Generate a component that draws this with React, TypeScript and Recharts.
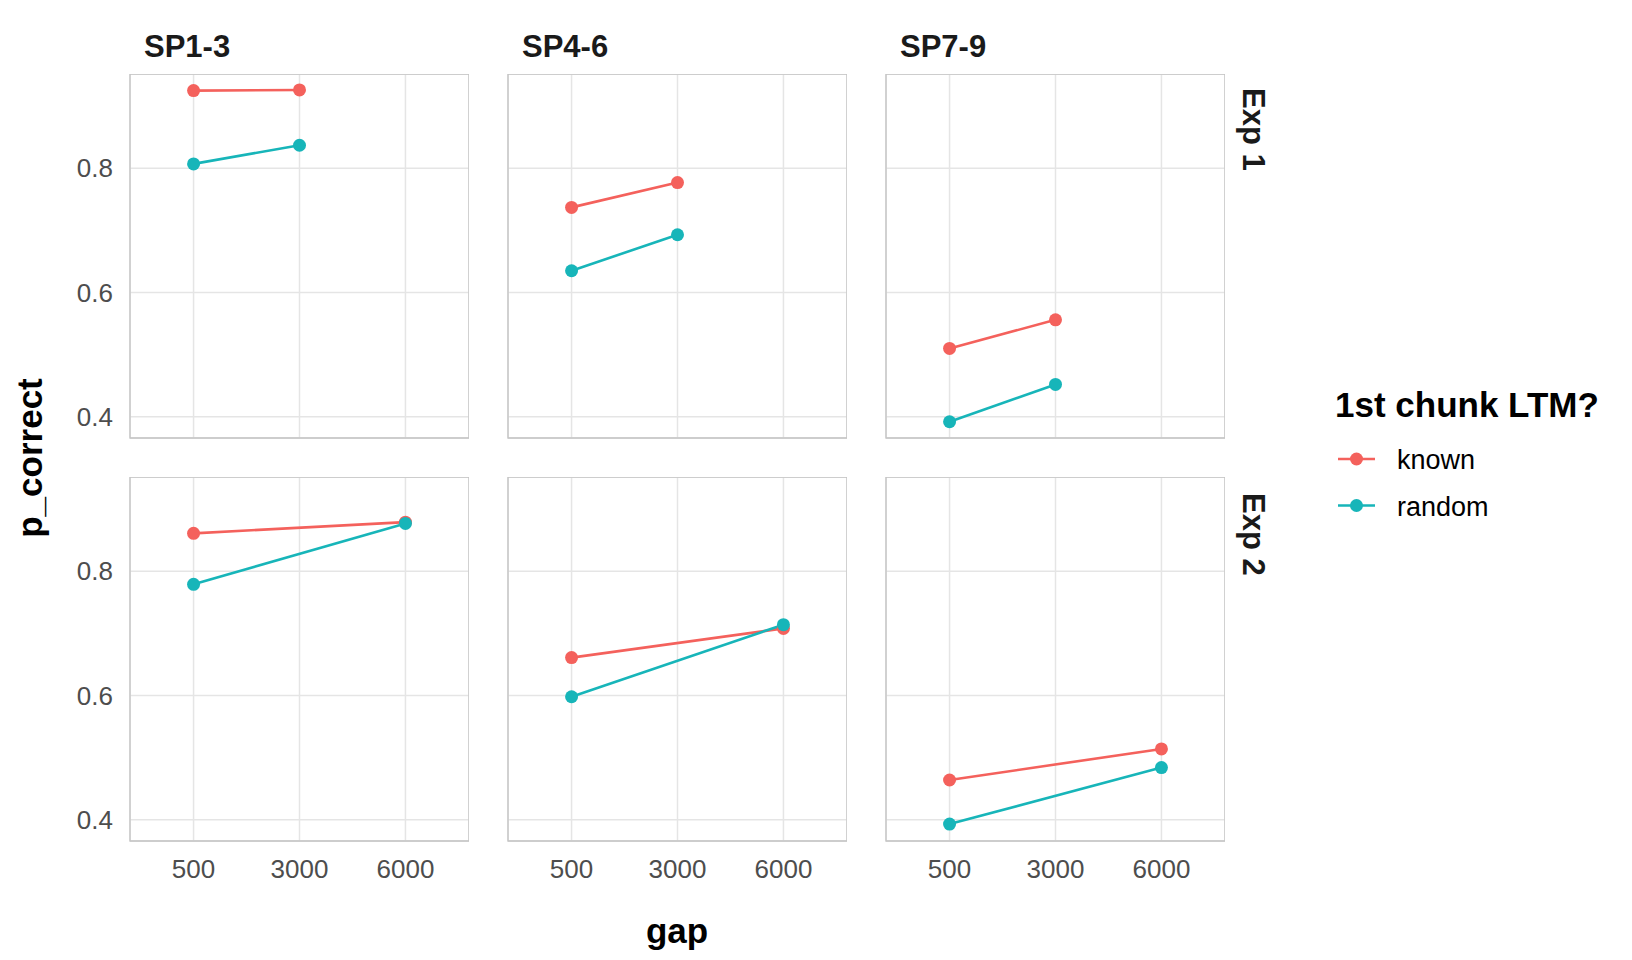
import React from 'react';
import { LineChart, Line, XAxis, YAxis, CartesianGrid, ReferenceArea } from 'recharts';

// ---------- data ----------
const gapLabels = ['500', '3000', '6000'];
const spGroups = ['SP1-3', 'SP4-6', 'SP7-9'];
const expLabels = ['Exp 1', 'Exp 2'];
const exp1Gaps = ['500', '3000'];
const exp2Gaps = ['500', '6000'];
// values per SP group: [gap A, gap B]
const exp1Known = [[0.925, 0.926], [0.737, 0.777], [0.510, 0.556]];
const exp1Random = [[0.807, 0.837], [0.635, 0.693], [0.392, 0.452]];
const exp2Known = [[0.861, 0.879], [0.661, 0.708], [0.464, 0.514]];
const exp2Random = [[0.779, 0.877], [0.598, 0.714], [0.393, 0.484]];
const yTicks = [0.4, 0.6, 0.8];
const seriesNames = ['known', 'random'];

// ---------- styling ----------
const KNOWN = '#F4615C';
const RANDOM = '#17B5B9';
const GRID = '#E5E5E5';
const BORDER = '#C4C4C4';
const TICK = '#4D4D4D';
const FONT = '"Liberation Sans", Arial, Helvetica, sans-serif';
const Y_DOMAIN: [number, number] = [0.3658, 0.9517];
const X_DOMAIN: [number, number] = [-0.6, 2.6];

const PANEL_W = 339;
const PANEL_H = 364;
const YAXIS_W = 100;
const XAXIS_H = 60;
const COL_LEFT = [130, 508, 886];
const ROW_TOP = [74, 477];

const emptyTick = () => <g />;

type PanelProps = { row: number; col: number };

function Panel({ row, col }: PanelProps) {
  const gaps = row === 0 ? exp1Gaps : exp2Gaps;
  const known = row === 0 ? exp1Known : exp2Known;
  const random = row === 0 ? exp1Random : exp2Random;
  const data = gaps.map((g, i) => ({
    gap: gapLabels.indexOf(g),
    known: known[col][i],
    random: random[col][i],
  }));
  const showX = row === 1;
  const showY = col === 0;
  return (
    <div
      style={{
        position: 'absolute',
        left: COL_LEFT[col] - YAXIS_W,
        top: ROW_TOP[row],
      }}
    >
      <LineChart
        width={PANEL_W + YAXIS_W}
        height={PANEL_H + XAXIS_H}
        data={data}
        margin={{ top: 0, right: 0, bottom: 0, left: 0 }}
      >
        <CartesianGrid stroke={GRID} strokeWidth={1.5} />
        <XAxis
          type="number"
          dataKey="gap"
          domain={X_DOMAIN}
          ticks={[0, 1, 2]}
          interval={0}
          allowDataOverflow
          height={XAXIS_H}
          axisLine={false}
          tickLine={false}
          tickSize={6}
          tickMargin={13}
          tick={showX ? { fill: TICK, fontSize: 26, fontFamily: FONT } : emptyTick}
          tickFormatter={(v: number) => gapLabels[v]}
        />
        <YAxis
          type="number"
          domain={Y_DOMAIN}
          ticks={yTicks}
          allowDataOverflow
          width={YAXIS_W}
          axisLine={false}
          tickLine={false}
          tickSize={6}
          tickMargin={11}
          tick={showY ? { fill: TICK, fontSize: 26, fontFamily: FONT } : emptyTick}
          tickFormatter={(v: number) => v.toFixed(1)}
        />
        <ReferenceArea
          x1={X_DOMAIN[0]}
          x2={X_DOMAIN[1]}
          y1={Y_DOMAIN[0]}
          y2={Y_DOMAIN[1]}
          fill="none"
          fillOpacity={0}
          stroke={BORDER}
          strokeWidth={1.3}
          ifOverflow="visible"
        />
        <Line
          type="linear"
          dataKey="known"
          stroke={KNOWN}
          strokeWidth={2.6}
          dot={{ r: 6.5, fill: KNOWN, stroke: KNOWN, strokeWidth: 0 }}
          activeDot={false}
          isAnimationActive={false}
        />
        <Line
          type="linear"
          dataKey="random"
          stroke={RANDOM}
          strokeWidth={2.6}
          dot={{ r: 6.5, fill: RANDOM, stroke: RANDOM, strokeWidth: 0 }}
          activeDot={false}
          isAnimationActive={false}
        />
      </LineChart>
    </div>
  );
}

export default function App() {
  const panels: JSX.Element[] = [];
  for (let r = 0; r < 2; r++) {
    for (let c = 0; c < 3; c++) {
      panels.push(<Panel key={`${r}-${c}`} row={r} col={c} />);
    }
  }
  const colors = [KNOWN, RANDOM];
  return (
    <div
      style={{
        position: 'absolute',
        left: 0,
        top: 0,
        width: 1632,
        height: 960,
        background: '#fff',
        fontFamily: FONT,
        overflow: 'hidden',
      }}
    >
      {panels}
      <svg
        width={1632}
        height={960}
        style={{ position: 'absolute', left: 0, top: 0, pointerEvents: 'none' }}
      >
        {spGroups.map((s, i) => (
          <text
            key={s}
            x={COL_LEFT[i] + 14}
            y={57}
            fontSize={31}
            fontWeight="bold"
            fill="#1A1A1A"
            fontFamily={FONT}
          >
            {s}
          </text>
        ))}
        {expLabels.map((e, i) => (
          <text
            key={e}
            transform={`translate(1243, ${ROW_TOP[i] + 14 + i * 2}) rotate(90)`}
            fontSize={31}
            fontWeight="bold"
            fill="#1A1A1A"
            fontFamily={FONT}
          >
            {e}
          </text>
        ))}
        <text
          x={677}
          y={943}
          textAnchor="middle"
          fontSize={35}
          fontWeight="bold"
          fill="#000"
          fontFamily={FONT}
        >
          gap
        </text>
        <text
          transform="translate(42, 458) rotate(-90)"
          textAnchor="middle"
          fontSize={35}
          fontWeight="bold"
          fill="#000"
          fontFamily={FONT}
        >
          p_correct
        </text>
        <text x={1335} y={417} fontSize={35} fontWeight="bold" fill="#000" fontFamily={FONT}>
          1st chunk LTM?
        </text>
        {seriesNames.map((n, i) => (
          <g key={n}>
            <line
              x1={1338}
              x2={1375}
              y1={459 + i * 46.5}
              y2={459 + i * 46.5}
              stroke={colors[i]}
              strokeWidth={2.6}
            />
            <circle cx={1356.5} cy={459 + i * 46.5} r={6.5} fill={colors[i]} />
            <text
              x={1397}
              y={469 + i * 46.5}
              fontSize={27}
              fill="#000"
              fontFamily={FONT}
            >
              {n}
            </text>
          </g>
        ))}
      </svg>
    </div>
  );
}
